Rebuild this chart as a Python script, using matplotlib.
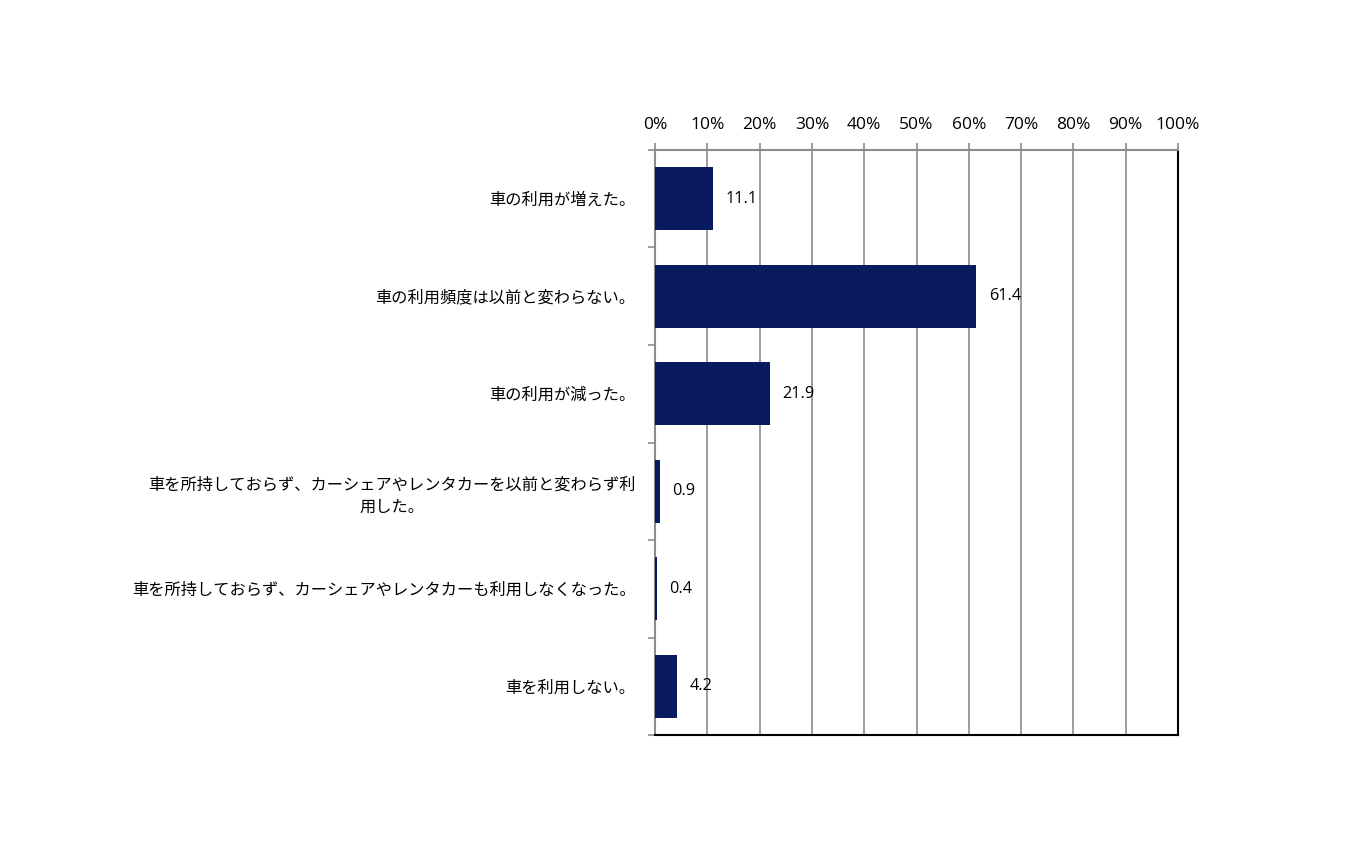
import matplotlib
matplotlib.use("Agg")
import matplotlib.pyplot as plt
from matplotlib.ticker import FixedLocator

plt.rcParams['font.family'] = ['Noto Sans CJK JP', 'DejaVu Sans']

categories = [
    "車の利用が増えた。",
    "車の利用頻度は以前と変わらない。",
    "車の利用が減った。",
    "車を所持しておらず、カーシェアやレンタカーを以前と変わらず利\n用した。",
    "車を所持しておらず、カーシェアやレンタカーも利用しなくなった。",
    "車を利用しない。",
]
values = [11.1, 61.4, 21.9, 0.9, 0.4, 4.2]
value_labels = ["11.1", "61.4", "21.9", "0.9", "0.4", "4.2"]
xticks = list(range(0, 101, 10))
xtick_labels = [f"{t}%" for t in xticks]

bar_color = "#0A1A5E"
grid_color = "#8C8C8C"

fig = plt.figure(figsize=(13.5, 8.44), dpi=100)
ax = fig.add_axes([0.4852, 0.1291, 0.8726 - 0.4852, 0.8223 - 0.1291])

y = list(range(len(categories)))
ax.barh(y, values, height=0.65, color=bar_color, zorder=3)

ax.set_xlim(0, 100)
ax.set_ylim(len(categories) - 0.5, -0.5)

ax.xaxis.tick_top()
ax.set_xticks(xticks)
ax.set_xticklabels(xtick_labels, fontsize=12.5, family=['Open Sans', 'DejaVu Sans'])
ax.tick_params(axis='x', direction='out', length=5, width=1.2, color=grid_color, pad=7)
ax.grid(axis='x', color=grid_color, linewidth=1.2, zorder=0)

ax.set_yticks(y)
ax.set_yticklabels(categories, fontsize=11.7, multialignment='center', linespacing=1.45)
ax.tick_params(axis='y', which='major', length=0, pad=14)
ax.yaxis.set_minor_locator(FixedLocator([i - 0.5 for i in range(len(categories) + 1)]))
ax.tick_params(axis='y', which='minor', direction='out', length=5, width=1.2, color=grid_color)

ax.spines['top'].set_color(grid_color)
ax.spines['top'].set_linewidth(1.5)
ax.spines['left'].set_color(grid_color)
ax.spines['left'].set_linewidth(1.5)
ax.spines['right'].set_color('black')
ax.spines['right'].set_linewidth(1.5)
ax.spines['bottom'].set_color('black')
ax.spines['bottom'].set_linewidth(1.5)

for yi, v, lab in zip(y, values, value_labels):
    ax.annotate(lab, xy=(v, yi), xytext=(9, 0), textcoords='offset points',
                va='center', ha='left', fontsize=11.7,
                family=['Open Sans', 'DejaVu Sans'], zorder=4)

fig.savefig("out.png", dpi=100, facecolor='white')
